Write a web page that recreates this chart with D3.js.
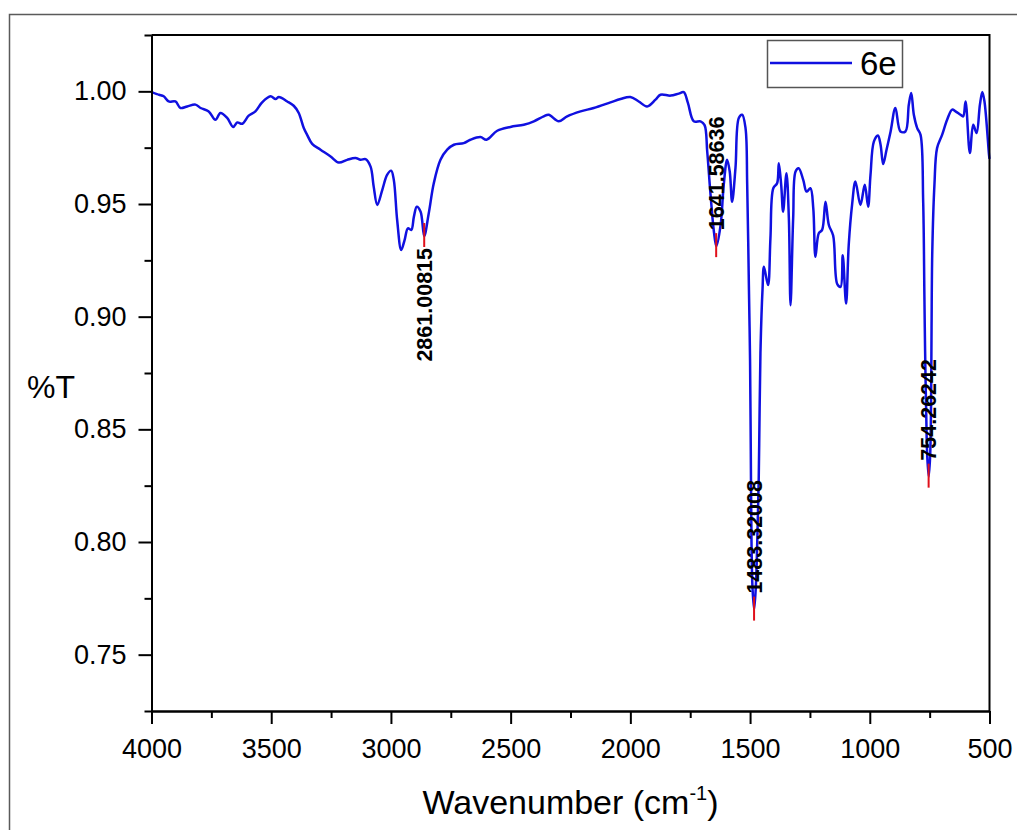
<!DOCTYPE html>
<html>
<head>
<meta charset="utf-8">
<script src="https://cdn.jsdelivr.net/npm/d3@7/dist/d3.min.js"></script>
<style>
  body { margin: 0; background: #fff; }
  text { font-family: "Liberation Sans", Arial, sans-serif; fill: #000; }
</style>
</head>
<body>
<script>
// FTIR spectrum of 6e (wavenumber in cm-1, %T as fraction)
const wavenumber = [
  4000, 3997, 3969, 3949, 3928, 3900, 3879, 3851, 3816, 3795, 3761, 3733, 3712, 3684, 3659, 3642,
  3621, 3594, 3566, 3538, 3503, 3482, 3468, 3433, 3406, 3385, 3364, 3350, 3329, 3294, 3252, 3218,
  3183, 3148, 3127, 3106, 3085, 3072, 3057, 3036, 3016, 2999, 2988, 2974, 2957, 2943, 2929, 2915,
  2904, 2892, 2876, 2861, 2842, 2821, 2793, 2765, 2737, 2696, 2668, 2626, 2601, 2556, 2501, 2445,
  2403, 2362, 2341, 2299, 2264, 2208, 2153, 2083, 2041, 2000, 1965, 1930, 1895, 1874, 1832, 1798,
  1777, 1760, 1735, 1707, 1690, 1679, 1665, 1651, 1641, 1623, 1610, 1596, 1585, 1575, 1561, 1547,
  1533, 1519, 1512, 1505, 1500, 1497, 1494, 1490, 1483, 1476, 1470, 1464, 1460, 1456, 1448, 1442,
  1425, 1415, 1403, 1387, 1380, 1370, 1362, 1348, 1338, 1331, 1320, 1310, 1297, 1278, 1264, 1248,
  1236, 1227, 1213, 1199, 1185, 1171, 1153, 1136, 1122, 1113, 1099, 1088, 1074, 1060, 1039, 1021,
  1007, 997, 983, 966, 955, 944, 930, 913, 893, 872, 851, 837, 827, 816, 802, 788,
  777, 772, 769, 764, 760, 754, 748, 744, 742, 739, 730, 719, 698, 677, 656, 642,
  621, 610, 600, 582, 568, 554, 540, 530, 521, 502, 500
];
const transmittance = [
  1.0000, 0.9996, 0.9985, 0.9978, 0.9955, 0.9955, 0.9926, 0.9933, 0.9941, 0.9926, 0.9911, 0.9874, 0.9904, 0.9882, 0.9842, 0.9862,
  0.9856, 0.9892, 0.9911, 0.9951, 0.9978, 0.9966, 0.9975, 0.9955, 0.9936, 0.9904, 0.9837, 0.9807, 0.9767, 0.9741, 0.9711, 0.9684,
  0.9696, 0.9704, 0.9696, 0.9699, 0.9666, 0.9577, 0.9496, 0.9563, 0.9629, 0.9648, 0.9607, 0.9429, 0.9296, 0.9340, 0.9392, 0.9385,
  0.9444, 0.9488, 0.9466, 0.9358, 0.9459, 0.9592, 0.9696, 0.9741, 0.9763, 0.9770, 0.9785, 0.9797, 0.9785, 0.9825, 0.9842, 0.9852,
  0.9867, 0.9889, 0.9896, 0.9867, 0.9889, 0.9911, 0.9926, 0.9951, 0.9966, 0.9975, 0.9955, 0.9933, 0.9963, 0.9985, 0.9981, 0.9990,
  0.9996, 0.9950, 0.9867, 0.9867, 0.9850, 0.9733, 0.9540, 0.9377, 0.9313, 0.9407, 0.9585, 0.9696, 0.9644, 0.9510, 0.9659, 0.9882,
  0.9896, 0.9837, 0.9585, 0.9140, 0.8800, 0.8400, 0.8000, 0.7800, 0.7700, 0.7800, 0.8000, 0.8270, 0.8600, 0.8870, 0.9120, 0.9221,
  0.9140, 0.9347, 0.9570, 0.9592, 0.9681, 0.9585, 0.9466, 0.9637, 0.9437, 0.9051, 0.9437, 0.9644, 0.9659, 0.9607, 0.9555, 0.9570,
  0.9481, 0.9266, 0.9370, 0.9385, 0.9510, 0.9407, 0.9360, 0.9145, 0.9132, 0.9273, 0.9058, 0.9318, 0.9496, 0.9600, 0.9496, 0.9585,
  0.9488, 0.9629, 0.9777, 0.9804, 0.9763, 0.9677, 0.9741, 0.9822, 0.9926, 0.9822, 0.9822, 0.9941, 0.9993, 0.9896, 0.9837, 0.9807,
  0.9510, 0.9100, 0.8850, 0.8550, 0.8380, 0.8290, 0.8380, 0.8620, 0.8950, 0.9288, 0.9585, 0.9748, 0.9807, 0.9874, 0.9919, 0.9911,
  0.9896, 0.9889, 0.9955, 0.9726, 0.9852, 0.9815, 0.9941, 0.9997, 0.9955, 0.9718, 0.9700
];

// labelled peaks
const peakWavenumber = [2861.00815, 1641.58636, 1483.32008, 754.26242];
const peakTransmittance = [0.9358, 0.9313, 0.7700, 0.8290];
const peakLabels = ["2861.00815", "1641.58636", "1483.32008", "754.26242"];
const peakLabelSide = ["below", "above", "above", "above"];

const xTicks = [4000, 3500, 3000, 2500, 2000, 1500, 1000, 500];
const xMinorTicks = [3750, 3250, 2750, 2250, 1750, 1250, 750];
const yTicks = [0.75, 0.80, 0.85, 0.90, 0.95, 1.00];
const yMinorTicks = [0.725, 0.775, 0.825, 0.875, 0.925, 0.975, 1.025];
const seriesName = "6e";

const width = 1017, height = 830;
const plot = {left: 151.5, right: 989.5, top: 35, bottom: 711};
const lineColor = "#1010e0";

const svg = d3.select("body").append("svg")
  .attr("width", width)
  .attr("height", height);

// outer frame of the exported picture
svg.append("rect")
  .attr("x", 9.5).attr("y", 14.5)
  .attr("width", 1100).attr("height", 900)
  .attr("fill", "none")
  .attr("stroke", "#5a5a5a")
  .attr("stroke-width", 1.5);

const x = d3.scaleLinear().domain([4000, 500]).range([plot.left, plot.right]);
const y = d3.scaleLinear().domain([0.725, 1.025]).range([plot.bottom, plot.top]);

// spectrum
const points = wavenumber.map((w, i) => [w, transmittance[i]]);
const line = d3.line()
  .x(d => x(d[0]))
  .y(d => y(d[1]))
  .curve(d3.curveCatmullRom.alpha(0.5));

svg.append("path")
  .datum(points)
  .attr("fill", "none")
  .attr("stroke", lineColor)
  .attr("stroke-width", 2.5)
  .attr("stroke-linejoin", "round")
  .attr("d", line);

// axes
function styleAxis(g) {
  g.selectAll("path.domain").attr("stroke", "#000").attr("stroke-width", 2);
  g.selectAll(".tick line").attr("stroke", "#000").attr("stroke-width", 2);
  g.selectAll(".tick text").attr("font-size", null).style("font-size", "27px")
    .style("font-family", '"Liberation Sans", Arial, sans-serif');
}

svg.append("g")
  .attr("transform", `translate(${plot.left},0)`)
  .call(d3.axisLeft(y).tickValues(yMinorTicks).tickSize(7).tickSizeOuter(0).tickFormat(""))
  .call(styleAxis);

svg.append("g")
  .attr("transform", `translate(${plot.left},0)`)
  .call(d3.axisLeft(y).tickValues(yTicks).tickSize(13).tickSizeOuter(0).tickPadding(12)
    .tickFormat(d3.format(".2f")))
  .call(styleAxis);

svg.append("g")
  .attr("transform", `translate(0,${plot.bottom})`)
  .call(d3.axisBottom(x).tickValues(xMinorTicks).tickSize(7).tickSizeOuter(0).tickFormat(""))
  .call(styleAxis);

svg.append("g")
  .attr("transform", `translate(0,${plot.bottom})`)
  .call(d3.axisBottom(x).tickValues(xTicks).tickSize(13).tickSizeOuter(0).tickPadding(15)
    .tickFormat(d3.format("d")))
  .call(styleAxis);

// top and right border of the plot
svg.append("path")
  .attr("d", `M${plot.left},${plot.top}H${plot.right}V${plot.bottom}`)
  .attr("fill", "none")
  .attr("stroke", "#000")
  .attr("stroke-width", 2);

// peak markers and labels
const peaks = svg.append("g").classed("peaks", true);
peakWavenumber.forEach((w, i) => {
  const px = x(w);
  const py = y(peakTransmittance[i]);
  const top = py - 13, bottom = py + 11;

  peaks.append("line")
    .attr("x1", px).attr("x2", px)
    .attr("y1", top).attr("y2", bottom)
    .attr("stroke", "#e0101a")
    .attr("stroke-width", 2);

  const above = peakLabelSide[i] === "above";
  peaks.append("text")
    .attr("transform", `translate(${px},${above ? top - 3 : bottom + 1}) rotate(-90)`)
    .attr("dy", "0.35em")
    .attr("text-anchor", above ? "start" : "end")
    .style("font-size", "21.5px")
    .style("font-weight", "bold")
    .text(peakLabels[i]);
});

// axis titles
svg.append("text")
  .attr("x", 27).attr("y", 398)
  .style("font-size", "32px")
  .text("%T");

const xTitle = svg.append("text")
  .attr("x", (plot.left + plot.right) / 2)
  .attr("y", 814)
  .attr("text-anchor", "middle")
  .style("font-size", "34px");
xTitle.append("tspan").text("Wavenumber (cm");
xTitle.append("tspan").attr("dy", -14).style("font-size", "20px").text("-1");
xTitle.append("tspan").attr("dy", 14).text(")");

// legend
const legend = svg.append("g").classed("legend", true);
legend.append("rect")
  .attr("x", 767.5).attr("y", 40.5)
  .attr("width", 135).attr("height", 47)
  .attr("fill", "#fff")
  .attr("stroke", "#555")
  .attr("stroke-width", 1.5);
legend.append("line")
  .attr("x1", 770).attr("x2", 852)
  .attr("y1", 63).attr("y2", 63)
  .attr("stroke", lineColor)
  .attr("stroke-width", 2.5);
legend.append("text")
  .attr("x", 860).attr("y", 75)
  .style("font-size", "33px")
  .text(seriesName);
</script>
</body>
</html>
